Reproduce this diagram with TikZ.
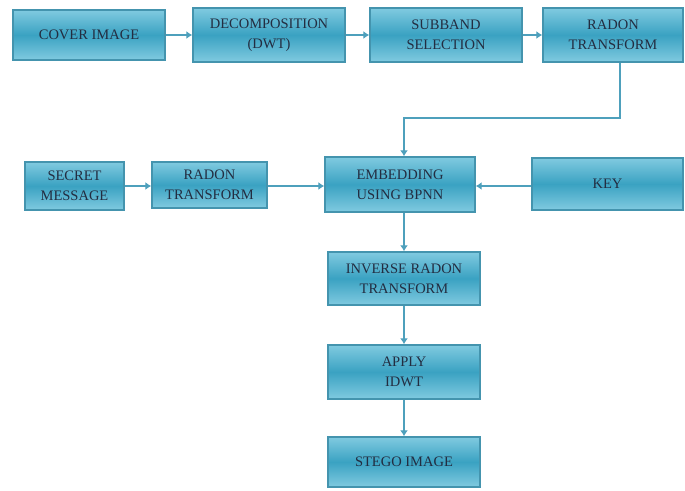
\documentclass[tikz,border=0pt]{standalone}
\usepackage{fontspec}
\setmainfont{Liberation Serif}
\usetikzlibrary{arrows.meta}
\definecolor{boxtop}{RGB}{128,202,224}
\definecolor{boxmid}{RGB}{58,162,194}
\definecolor{boxedge}{RGB}{68,148,174}
\definecolor{arrowc}{RGB}{78,160,188}
\definecolor{txt}{RGB}{35,45,65}
\tikzset{
  box/.style={draw=boxedge, line width=1.4pt, top color=boxtop, bottom color=boxtop, middle color=boxmid,
    text=txt, align=center, font=\fontsize{14.5}{20}\selectfont, inner sep=0pt},
  conn/.style={draw=arrowc, line width=2.7pt, -{Latex[length=6pt,width=8pt]}}
}
\newcommand{\mybox}[6]{% name, x1,y1,x2,y2, text
  \node[box, minimum width={#4-#2}, minimum height={#5-#3}] (#1) at ({(#2+#4)/2},{(#3+#5)/2}) {#6};}
\begin{document}
\begin{tikzpicture}[x=1pt,y=-1pt]
\useasboundingbox (0,0) rectangle (685,490);
\mybox{cover}{13}{10}{165}{60}{COVER IMAGE}
\mybox{dec}{193}{8}{345}{62}{DECOMPOSITION\\(DWT)}
\mybox{sub}{370}{8}{522}{62}{SUBBAND\\SELECTION}
\mybox{rad}{543}{8}{683}{62}{RADON\\TRANSFORM}
\mybox{sec}{25}{162}{124}{210}{SECRET\\MESSAGE}
\mybox{rad2}{152}{162}{267}{208}{RADON\\TRANSFORM}
\mybox{emb}{325}{157}{475}{212}{EMBEDDING\\USING BPNN}
\mybox{key}{532}{158}{683}{210}{KEY}
\mybox{inv}{328}{252}{480}{305}{INVERSE RADON\\TRANSFORM}
\mybox{app}{328}{345}{480}{399}{APPLY\\IDWT}
\mybox{ste}{328}{437}{480}{487}{STEGO IMAGE}
\coordinate (c1) at (620,118);
\coordinate (c2) at (404,118);
\coordinate (h) at (0,186);
\draw[conn] (cover) -- (dec);
\draw[conn] (dec) -- (sub);
\draw[conn] (sub) -- (rad);
\draw[conn] (rad.south -| c1) -- (c1) -- (c2) -- (c2 |- emb.north);
\draw[conn] (sec.east |- h) -- (rad2.west |- h);
\draw[conn] (rad2.east |- h) -- (emb.west |- h);
\draw[conn] (key.west |- h) -- (emb.east |- h);
\draw[conn] (emb.south -| c2) -- (c2 |- inv.north);
\draw[conn] (inv.south -| c2) -- (c2 |- app.north);
\draw[conn] (app.south -| c2) -- (c2 |- ste.north);
\end{tikzpicture}
\end{document}
